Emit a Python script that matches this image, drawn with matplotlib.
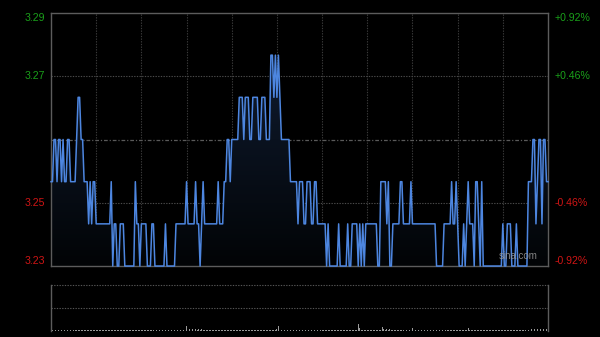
import numpy as np
import matplotlib
matplotlib.use("Agg")
import matplotlib.pyplot as plt

# ---------------- data ----------------
prev_close = 3.26
minutes = list(range(0, 331))
price = [
    3.25,3.25,3.26,3.26,3.25,3.26,3.26,3.25,3.26,3.25,
    3.25,3.26,3.26,3.25,3.25,3.25,3.25,3.26,3.27,3.27,
    3.26,3.26,3.25,3.25,3.25,3.24,3.25,3.24,3.25,3.25,
    3.24,3.24,3.24,3.24,3.24,3.24,3.24,3.24,3.24,3.24,
    3.25,3.23,3.24,3.24,3.23,3.23,3.24,3.24,3.24,3.23,
    3.23,3.23,3.23,3.23,3.23,3.23,3.25,3.24,3.24,3.23,
    3.24,3.24,3.24,3.24,3.23,3.23,3.23,3.24,3.24,3.23,
    3.23,3.23,3.23,3.23,3.23,3.23,3.24,3.23,3.23,3.23,
    3.23,3.23,3.23,3.24,3.24,3.24,3.24,3.24,3.24,3.24,
    3.25,3.24,3.24,3.24,3.24,3.24,3.25,3.24,3.24,3.23,
    3.24,3.25,3.24,3.24,3.24,3.24,3.24,3.24,3.24,3.24,
    3.24,3.25,3.24,3.24,3.24,3.25,3.25,3.26,3.26,3.25,
    3.26,3.26,3.26,3.26,3.26,3.27,3.27,3.27,3.26,3.27,
    3.27,3.27,3.26,3.26,3.27,3.27,3.27,3.27,3.26,3.26,
    3.27,3.27,3.27,3.26,3.26,3.26,3.28,3.28,3.27,3.28,
    3.27,3.28,3.27,3.26,3.26,3.26,3.26,3.26,3.26,3.25,
    3.25,3.25,3.25,3.25,3.24,3.25,3.25,3.25,3.24,3.24,
    3.25,3.25,3.25,3.24,3.24,3.25,3.25,3.24,3.24,3.24,
    3.24,3.24,3.24,3.23,3.24,3.23,3.23,3.23,3.23,3.23,
    3.23,3.24,3.23,3.23,3.23,3.23,3.23,3.24,3.23,3.23,
    3.24,3.24,3.24,3.24,3.23,3.24,3.23,3.24,3.23,3.24,
    3.24,3.24,3.24,3.24,3.24,3.24,3.24,3.23,3.23,3.25,
    3.25,3.25,3.25,3.24,3.25,3.23,3.23,3.24,3.24,3.24,
    3.24,3.24,3.25,3.25,3.24,3.24,3.24,3.24,3.24,3.25,
    3.24,3.24,3.24,3.24,3.24,3.24,3.24,3.24,3.24,3.24,
    3.24,3.24,3.24,3.24,3.24,3.24,3.23,3.23,3.23,3.23,
    3.23,3.24,3.24,3.24,3.24,3.24,3.25,3.24,3.24,3.25,
    3.24,3.23,3.23,3.23,3.24,3.23,3.24,3.25,3.24,3.24,
    3.24,3.23,3.25,3.25,3.24,3.23,3.25,3.23,3.23,3.23,
    3.23,3.23,3.23,3.23,3.23,3.23,3.23,3.23,3.23,3.23,
    3.24,3.23,3.23,3.24,3.24,3.24,3.23,3.23,3.23,3.24,
    3.23,3.23,3.23,3.23,3.23,3.23,3.23,3.25,3.25,3.25,
    3.26,3.26,3.24,3.25,3.26,3.26,3.24,3.26,3.26,3.25,
    3.25,
]
volume = [
    4,2,2,3,2,2,3,2,2,2,
    2,3,2,2,2,3,2,2,3,2,
    2,2,3,2,2,2,2,3,2,2,
    2,2,2,3,2,2,2,2,2,3,
    2,2,3,2,2,2,2,3,2,2,
    2,2,2,2,3,2,2,2,2,3,
    2,2,2,3,2,2,2,2,3,2,
    2,2,2,2,2,3,2,2,2,2,
    3,2,2,2,2,3,2,2,3,2,
    10,3,5,3,4,3,5,3,4,3,
    4,2,3,2,2,3,2,2,2,3,
    2,3,2,2,3,2,2,3,2,2,
    3,2,2,2,2,3,2,2,2,2,
    2,3,2,2,2,2,3,2,2,2,
    2,2,3,2,2,2,2,3,3,2,
    4,11,4,3,2,3,2,2,3,2,
    2,2,3,2,2,2,3,2,2,2,
    2,3,2,2,2,2,2,3,2,2,
    2,2,2,3,2,2,2,2,3,2,
    2,2,3,2,2,2,3,2,2,2,
    3,2,2,2,15,6,3,2,2,2,
    2,3,2,2,2,2,3,2,2,3,
    9,4,3,5,3,4,3,2,3,2,
    2,2,2,3,2,2,2,2,3,2,
    6,3,2,2,2,3,2,2,2,2,
    2,3,2,2,2,2,3,2,2,2,
    2,2,3,2,2,2,2,3,2,2,
    2,2,3,2,2,2,2,6,2,2,
    3,2,2,2,2,3,2,2,2,2,
    2,3,2,2,2,2,3,2,2,2,
    2,2,3,2,2,2,2,3,2,2,
    2,2,3,2,2,2,3,3,17,5,
    3,4,3,5,3,4,3,4,5,4,
    5,
]
pct_levels = [0.0092, 0.0046, -0.0046, -0.0092]
left_labels = ["3.29", "3.27", "3.25", "3.23"]
right_labels = ["+0.92%", "+0.46%", "-0.46%", "-0.92%"]
grid_minutes = [30, 60, 90, 120, 150, 180, 210, 240, 270, 300]

# ---------------- figure ----------------
W, H = 600, 337
fig = plt.figure(figsize=(W / 100, H / 100), dpi=100, facecolor="black")
plt.rcParams["font.family"] = ["Liberation Sans", "DejaVu Sans"]

ax = fig.add_axes([51 / W, 1 - 266 / H, 497 / W, 253 / H], facecolor="black")
ymin = prev_close * (1 - 0.0092)
ymax = prev_close * (1 + 0.0092)
ax.set_xlim(0, 330)
ax.set_ylim(ymin, ymax)

grid_col = "#3a3a3a"
for m in grid_minutes:
    ax.axvline(m, color=grid_col, lw=0.8, ls=(0, (1.2, 1.2)), zorder=1)
for p in [0.0046, -0.0046]:
    ax.axhline(prev_close * (1 + p), color="#4a4a4a", lw=0.8, ls=(0, (1.2, 1.2)), zorder=1)
ax.axhline(prev_close, color="#5a5a5a", lw=0.9, ls=(0, (3, 1.5, 1, 1.5)), zorder=1)

# gradient fill under the price line
poly = ax.fill_between(minutes, price, ymin, color="none", lw=0)
grad = np.linspace(1, 0, 256).reshape(-1, 1)
from matplotlib.colors import LinearSegmentedColormap
cmap = LinearSegmentedColormap.from_list("g", ["#020406", "#122038"])
im = ax.imshow(grad, cmap=cmap, aspect="auto", extent=[0, 330, ymin, ymax],
               origin="upper", zorder=2, vmin=0, vmax=1)
im.set_clip_path(poly.get_paths()[0], transform=ax.transData)

ax.plot(minutes, price, color="#4d86e0", lw=1.1, zorder=3, clip_on=False)

for s in ax.spines.values():
    s.set_color("#5c5c5c")
    s.set_linewidth(1.0)

ticks = [prev_close * (1 + p) for p in pct_levels]
ax.set_yticks(ticks)
ax.set_yticklabels(left_labels)
ax.set_xticks([])
ax.tick_params(axis="y", length=0, pad=4, labelsize=7.6)
cols = ["#1aa01a", "#1aa01a", "#d01515", "#d01515"]
vas = ["top", "center", "center", "bottom"]
for lab, c, va in zip(ax.get_yticklabels(), cols, vas):
    lab.set_color(c)
    lab.set_va(va)

ax2 = ax.twinx()
ax2.set_ylim(ymin, ymax)
ax2.set_yticks(ticks)
ax2.set_yticklabels(right_labels)
ax2.tick_params(axis="y", length=0, pad=5, labelsize=7.6)
for lab, c, va in zip(ax2.get_yticklabels(), cols, vas):
    lab.set_color(c)
    lab.set_va(va)
for s in ax2.spines.values():
    s.set_visible(False)

ax.text(0.94, 0.02, "sina.com", transform=ax.transAxes, ha="center", va="bottom",
        color="#9a9a9a", fontsize=7, alpha=0.85, zorder=5)

# ---------------- volume ----------------
axv = fig.add_axes([51 / W, 1 - 331 / H, 497 / W, 46 / H], facecolor="black")
axv.set_xlim(0, 330)
axv.set_ylim(0, 100)
axv.axhline(100, color="#555555", lw=0.8, ls=(0, (1.2, 1.2)), clip_on=False)
axv.axhline(50, color="#555555", lw=0.8, ls=(0, (1.2, 1.2)))
axv.bar(minutes, volume, width=0.55, color="#9a9a9a", linewidth=0)
for k in ["top", "bottom"]:
    axv.spines[k].set_visible(False)
for k in ["left", "right"]:
    axv.spines[k].set_color("#5c5c5c")
    axv.spines[k].set_linewidth(1.0)
axv.set_xticks([])
axv.set_yticks([])

fig.savefig("out.png", dpi=100, facecolor="black")
